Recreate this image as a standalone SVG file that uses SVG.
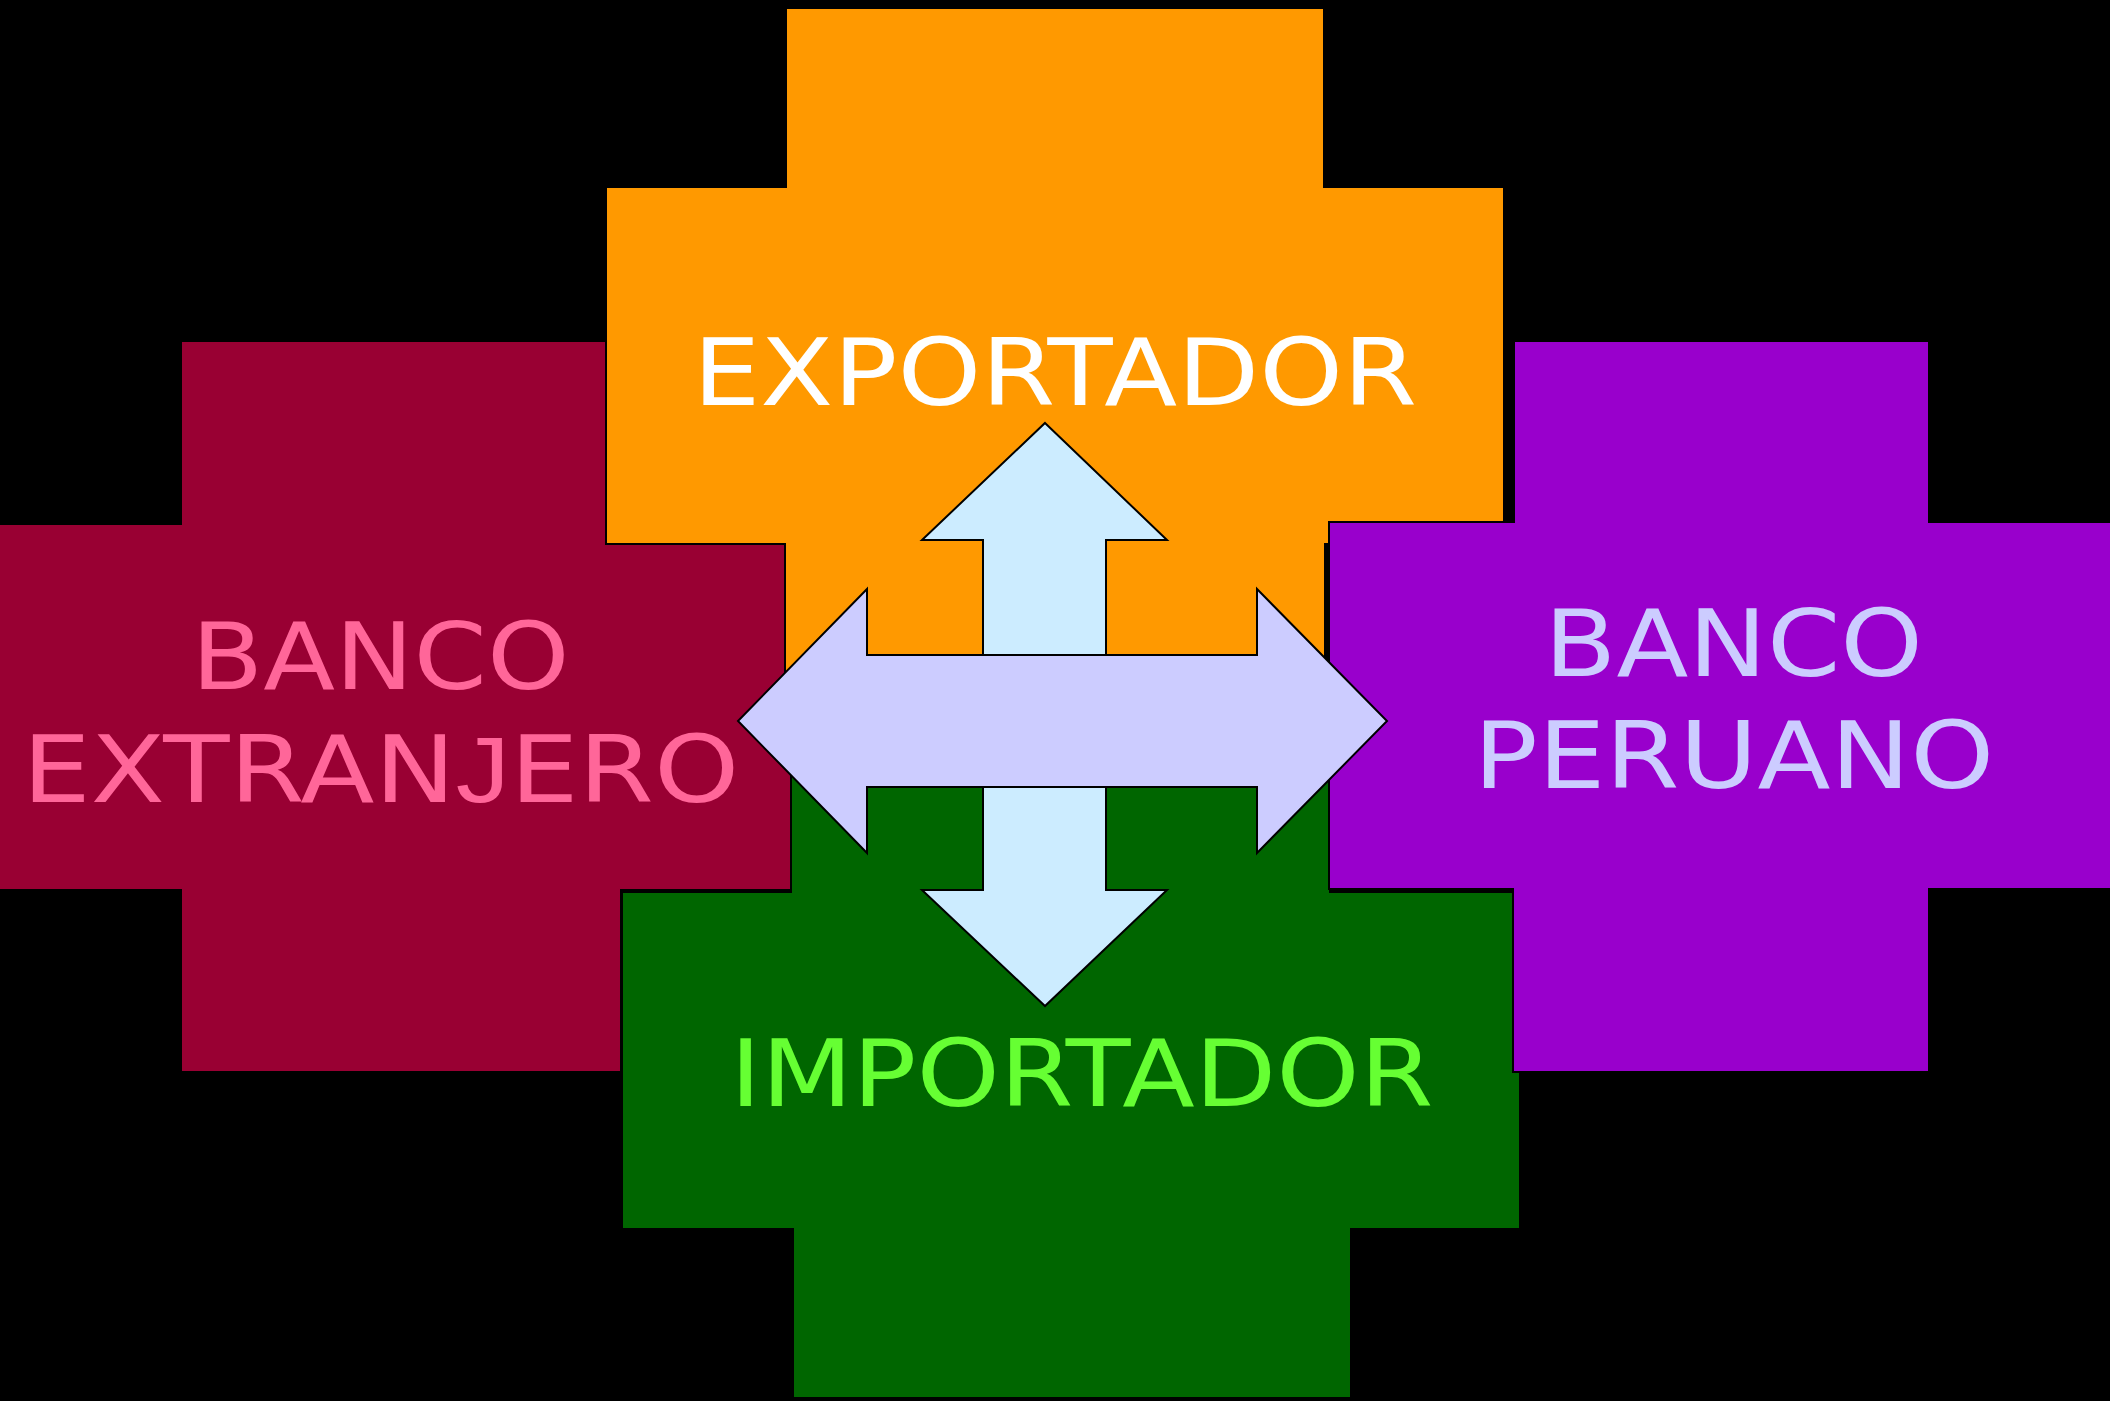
<svg xmlns="http://www.w3.org/2000/svg" width="2110" height="1401" viewBox="0 0 2110 1401">
  <style>
    .shape { stroke: #000000; stroke-width: 2; stroke-linejoin: miter; }
    .lbl { font-family: "DejaVu Sans", "Liberation Sans", sans-serif; font-size: 93px; }
    .alt { font-family: "Liberation Sans", "DejaVu Sans", sans-serif; }
    .arrow { stroke: #000000; stroke-width: 2; stroke-linejoin: miter; }
  </style>
  <rect x="0" y="0" width="2110" height="1401" fill="#000000"/>

  <g id="banco-extranjero">
    <polygon class="shape" fill="#990033" points="181,341 621,341 621,524 791,524 791,890 621,890 621,1072 181,1072 181,890 -5,890 -5,524 181,524"/>
    <text class="lbl" fill="#FF6699" x="191.2" y="689" textLength="378.4" lengthAdjust="spacingAndGlyphs">BANCO</text>
    <text class="lbl" fill="#FF6699" x="22.2" y="802" textLength="717.1" lengthAdjust="spacingAndGlyphs">EXTRAN<tspan class="alt">J</tspan>ERO</text>
  </g>

  <g id="exportador">
    <polygon class="shape" fill="#FF9900" points="786,8 1324,8 1324,187 1504,187 1504,544 1325,544 1325,720 785,720 785,544 606,544 606,187 786,187"/>
    <text class="lbl" fill="#FFFFFF" x="693" y="405" textLength="724" lengthAdjust="spacingAndGlyphs">EXPORTADOR</text>
  </g>

  <g id="importador">
    <polygon class="shape" fill="#006600" points="791,720 1330,720 1330,892 1520,892 1520,1229 1351,1229 1351,1398 793,1398 793,1229 622,1229 622,892 791,892"/>
    <text class="lbl" fill="#66FF33" x="729.9" y="1106" textLength="703.4" lengthAdjust="spacingAndGlyphs">IMPORTADOR</text>
  </g>

  <g id="banco-peruano">
    <polygon class="shape" fill="#9900CC" points="1514,341 1929,341 1929,522 2115,522 2115,889 1929,889 1929,1072 1513,1072 1513,889 1329,889 1329,522 1514,522"/>
    <text class="lbl" fill="#CCCCFF" x="1544.3" y="676" textLength="378.8" lengthAdjust="spacingAndGlyphs">BANCO</text>
    <text class="lbl" fill="#CCCCFF" x="1473.6" y="788" textLength="520.7" lengthAdjust="spacingAndGlyphs">PERUANO</text>
  </g>

  <g id="connectors">
    <polygon id="arrow-vertical" class="arrow" fill="#CCECFF" points="1045,423 1167,540 1106,540 1106,890 1167,890 1045,1006 922,890 983,890 983,540 922,540"/>
    <polygon id="arrow-horizontal" class="arrow" fill="#CCCCFF" points="738,721 867,589 867,655 1257,655 1257,589 1387,721 1257,853 1257,787 867,787 867,853"/>
  </g>
</svg>
